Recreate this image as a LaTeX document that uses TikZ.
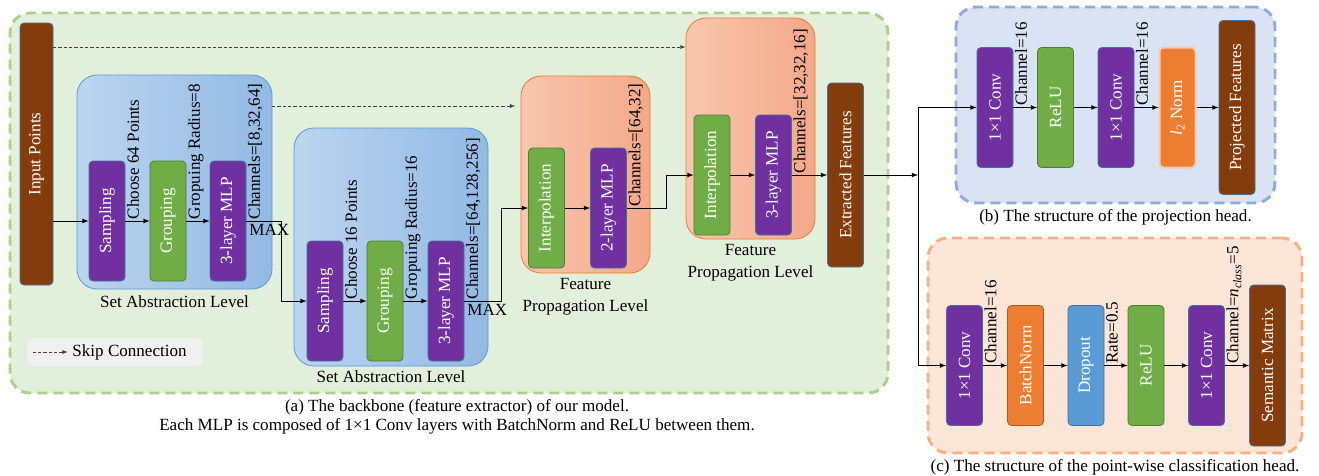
\documentclass[tikz,border=0pt]{standalone}
\usepackage{fontspec}
\setmainfont{Liberation Serif}
\usepackage{tikz}
\usetikzlibrary{arrows,shapes,positioning,fit}
\definecolor{cPurp}{HTML}{7030A0}
\definecolor{cGreen}{HTML}{70AD47}
\definecolor{cGreenB}{HTML}{507E32}
\definecolor{cBrown}{HTML}{843C0C}
\definecolor{cOrange}{HTML}{ED7D31}
\definecolor{cOrangeB}{HTML}{AE5A21}
\definecolor{cOrangeL}{HTML}{F8CBAD}
\definecolor{cBlue}{HTML}{5B9BD5}
\definecolor{cBlueB}{HTML}{41719C}
\definecolor{saL}{HTML}{BCD5EF}
\definecolor{saR}{HTML}{92B9E4}
\definecolor{saB}{HTML}{5B9BD5}
\definecolor{fpL}{HTML}{F8C6AE}
\definecolor{fpR}{HTML}{F4A889}
\definecolor{fpB}{HTML}{ED7D31}
\definecolor{gF}{HTML}{E2EFDA}
\definecolor{gB}{HTML}{A9D18E}
\definecolor{bF}{HTML}{DAE3F3}
\definecolor{bB}{HTML}{8FAADC}
\definecolor{cF}{HTML}{FBE5D6}
\definecolor{cB}{HTML}{F4B183}
\definecolor{legF}{HTML}{F0F0F0}

\begin{document}
\begin{tikzpicture}[x=0.75pt,y=-0.75pt,>=latex,
every node/.style={font=\fontsize{12.8}{14.5}\selectfont},
blk/.style={rotate=90, rounded corners=3pt, text=white,
  minimum width=90pt, minimum height=27pt, inner sep=1pt, line width=0.6pt},
pblk/.style={blk, fill=cPurp, draw=cBlueB},
gblk/.style={blk, fill=cGreen, draw=cGreenB},
bblk/.style={blk, fill=cBrown, draw=cBlueB},
oblk/.style={blk, fill=cOrange, draw=cOrangeB},
dblk/.style={blk, fill=cBlue, draw=cBlueB},
lbl/.style={rotate=90, anchor=north west, inner sep=1pt},
sabox/.style={left color=saL, right color=saR, draw=saB,
  rounded corners=15pt, inner sep=0pt, line width=0.6pt},
fpbox/.style={left color=fpL, right color=fpR, draw=fpB,
  rounded corners=15pt, inner sep=0pt, line width=0.6pt},
panel/.style={dash pattern=on 7.5pt off 4.5pt, line width=2.2pt,
  rounded corners=15pt, inner sep=0pt},
skip/.style={->, dash pattern=on 2.5pt off 1.5pt, draw=black!75},
conn/.style={->, line width=0.6pt} ]
\useasboundingbox (0,0) rectangle (1319,475);

% backbone
\node[panel, draw=gB, fill=gF, fit={(10,13) (888,393)}] (bb) {};
\node[sabox, fit={(77,75) (272,289)}] (sa1) {};
\node[sabox, fit={(294,128) (488,366)}] (sa2) {};
\node[fpbox, fit={(521,76) (650,273)}] (fp1) {};
\node[fpbox, fit={(686,18) (815,239)}] (fp2) {};
\node[below=1pt of sa1] {Set Abstraction Level};
\node[below=0pt of sa2] {Set Abstraction Level};
\node[below=0pt of fp1, align=center] {Feature\\[2pt]Propagation Level};
\node[below=0pt of fp2, align=center] {Feature\\[2pt]Propagation Level};

\node[bblk, minimum width=196.5pt, minimum height=24.75pt] (ip) at (36.5,154) {Input Points};
\node[pblk] (s1) at (107,221) {Sampling};
\node[gblk] (g1) at (168,221) {Grouping};
\node[pblk] (m1) at (228,221) {3-layer MLP};
\node[pblk] (s2) at (325,301) {Sampling};
\node[gblk] (g2) at (385,301) {Grouping};
\node[pblk] (m2) at (446,301) {3-layer MLP};
\node[gblk] (i1) at (546.5,208) {Interpolation};
\node[pblk] (p1) at (608.5,208) {2-layer MLP};
\node[gblk] (i2) at (712,175) {Interpolation};
\node[pblk] (p2) at (773.5,175) {3-layer MLP};
\node[bblk, minimum width=138pt] (ef) at (845.5,175) {Extracted Features};

\draw[conn] (ip.south |- s1) -- (s1);
\draw[conn] (s1) -- node[lbl,pos=0] {Choose 64 Points} (g1);
\draw[conn] (g1) -- node[lbl,pos=0] {Gropuing Radius=8} (m1);
\draw[conn] (m1.south) -- ++(35,0) node[lbl,pos=0] {Channels=[8,32,64]}
  node[pos=0, anchor=north west, inner sep=2pt] {MAX} |- (s2);
\draw[conn] (s2) -- node[lbl,pos=0] {Choose 16 Points} (g2);
\draw[conn] (g2) -- node[lbl,pos=0] {Gropuing Radius=16} (m2);
\draw[conn] (m2.south) -- ++(37,0) node[lbl,pos=0] {Channels=[64,128,256]}
  node[pos=0, anchor=north west, inner sep=2pt] {MAX} |- (i1);
\draw[conn] (i1) -- (p1);
\draw[conn] (p1.south) -- ++(39,0) node[lbl,pos=0] {Channels=[64,32]} |- (i2);
\draw[conn] (i2) -- (p2);
\draw[conn] (p2) -- node[lbl,pos=0] {Channels=[32,32,16]} (ef);

% skip connections
\coordinate (sk1) at (53,47);
\coordinate (sk2) at (272,106);
\draw[skip] (sk1) -- (sk1 -| fp2.west);
\draw[skip, shorten >=4pt] (sk2) -- (sk2 -| fp1.west);
\node[fill=legF, rounded corners=4pt, minimum width=132pt, minimum height=21pt] (leg) at (115,352) {};
\draw[skip] ([xshift=4.5pt]leg.west) -- ++(35,0) node[right] {Skip Connection};

\node[below=0pt of bb, xshift=6pt, align=center]
  {(a) The backbone (feature extractor) of our model.\\
   Each MLP is composed of 1×1 Conv layers with BatchNorm and ReLU between them.};

% projection head
\node[panel, draw=bB, fill=bF, fit={(956,7) (1275,203)}] (pb) {};
\node[pblk] (pc1) at (995,107.5) {1×1 Conv};
\node[gblk] (pr) at (1055.5,107.5) {ReLU};
\node[pblk] (pc2) at (1116,107.5) {1×1 Conv};
\node[blk, fill=cOrange, draw=cOrangeL, line width=1.5pt] (pn) at (1177.5,107.5) {\textit{l}\textsubscript{2} Norm};
\node[bblk, minimum width=130.5pt] (pf) at (1237,107.5) {Projected Features};
\draw[conn] (pc1) -- node[lbl,pos=0] {Channel=16} (pr);
\draw[conn] (pr) -- (pc2);
\draw[conn] (pc2) -- node[lbl,pos=0] {Channel=16} (pn);
\draw[conn] (pn) -- (pf);
\node[below=0pt of pb] {(b) The structure of the projection head.};

% classification head
\node[panel, draw=cB, fill=cF, fit={(928,238) (1302,453)}] (pc) {};
\node[pblk] (cc1) at (964.5,365.5) {1×1 Conv};
\node[oblk] (cn) at (1025.5,365.5) {BatchNorm};
\node[dblk] (cd) at (1086,365.5) {Dropout};
\node[gblk] (cr) at (1146,365.5) {ReLU};
\node[pblk] (cc2) at (1206.5,365.5) {1×1 Conv};
\node[bblk, minimum width=120.75pt] (cs) at (1267.5,365.5) {Semantic Matrix};
\draw[conn] (cc1) -- node[lbl,pos=0] {Channel=16} (cn);
\draw[conn] (cn) -- (cd);
\draw[conn] (cd) -- node[lbl,pos=0] {Rate=0.5} (cr);
\draw[conn] (cr) -- (cc2);
\draw[conn] (cc2) -- node[lbl,pos=0] {Channel=\textit{n}\textsubscript{\textit{class}}=5} (cs);
\node[below=0pt of pc] {(c) The structure of the point-wise classification head.};

% branch to heads
\coordinate (br) at (918,175);
\draw[conn] (ef) -- (br);
\draw[conn] (br) |- (pc1);
\draw[conn] (br) |- (cc1);
\end{tikzpicture}
\end{document}
